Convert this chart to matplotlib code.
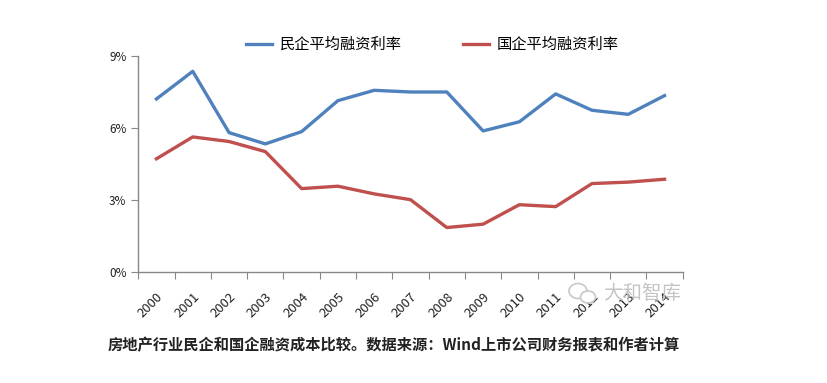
import matplotlib
matplotlib.use("Agg")
import matplotlib.pyplot as plt
from matplotlib.patches import Ellipse
import numpy as np

plt.rcParams['font.family'] = ['Noto Sans CJK SC', 'DejaVu Sans']

years = [str(y) for y in range(2000, 2015)]
private_rate = [7.20, 8.35, 5.80, 5.33, 5.84, 7.13, 7.56, 7.49, 7.49, 5.87, 6.25, 7.41, 6.73, 6.56, 7.34]
state_rate = [4.71, 5.62, 5.43, 5.01, 3.47, 3.57, 3.25, 3.01, 1.85, 1.99, 2.80, 2.72, 3.68, 3.74, 3.86]
labels = ['民企平均融资利率', '国企平均融资利率']
caption = '房地产行业民企和国企融资成本比较。数据来源：Wind上市公司财务报表和作者计算'

W, H = 827, 383
fig = plt.figure(figsize=(W / 100, H / 100), dpi=100)
ax = fig.add_axes([138.3 / W, 1 - 272 / H, (682.7 - 138.3) / W, (272 - 55.7) / H])

x = np.arange(len(years))
ax.plot(x, private_rate, color='#4F81BD', lw=2.4, label=labels[0])
ax.plot(x, state_rate, color='#C0504D', lw=2.4, label=labels[1])

ax.set_xlim(-0.5, len(years) - 0.5)
ax.set_ylim(0, 9)
ax.set_yticks([0, 3, 6, 9])
ax.set_yticklabels(['0%', '3%', '6%', '9%'])

# ticks on category boundaries, year labels at the centres
ax.set_xticks(np.arange(-0.5, len(years)), minor=False)
ax.set_xticklabels([])
ax.set_xticks(x, minor=True)
ax.set_xticklabels(years, minor=True, rotation=45, ha='right', rotation_mode='anchor')
ax.tick_params(axis='x', which='major', length=5, color='#888888', direction='out')
ax.tick_params(axis='x', which='minor', length=0, pad=13, labelsize=9.5, labelcolor='#222222')
ax.tick_params(axis='y', length=5, color='#888888', labelsize=8.5, labelcolor='#222222')

for s in ['top', 'right']:
    ax.spines[s].set_visible(False)
for s in ['left', 'bottom']:
    ax.spines[s].set_color('#888888')
    ax.spines[s].set_linewidth(1)

leg = ax.legend(loc='center', bbox_to_anchor=(432 / W, 1 - 44.7 / H), bbox_transform=fig.transFigure,
                ncol=2, frameon=False, fontsize=11, handlelength=1.7, columnspacing=4.0,
                handletextpad=0.5)

# watermark (wechat-like bubbles + name)
b1 = Ellipse((578 / W, 1 - 291 / H), 18 / W, 15 / H, facecolor='white', edgecolor='#c8c8c8', lw=1.2,
             transform=fig.transFigure, zorder=5)
b2 = Ellipse((588 / W, 1 - 297 / H), 15 / W, 12 / H, facecolor='white', edgecolor='#c8c8c8', lw=1.2,
             transform=fig.transFigure, zorder=6)
fig.patches.extend([b1, b2])
fig.text(603 / W, 1 - 293 / H, '大和智库', fontsize=14, color='#c4c4c4', ha='left', va='center', zorder=7)

fig.text(108 / W, 1 - 345 / H, caption, fontsize=11, fontweight='bold', color='#222222',
         ha='left', va='center')

fig.savefig('out.png', dpi=100)
